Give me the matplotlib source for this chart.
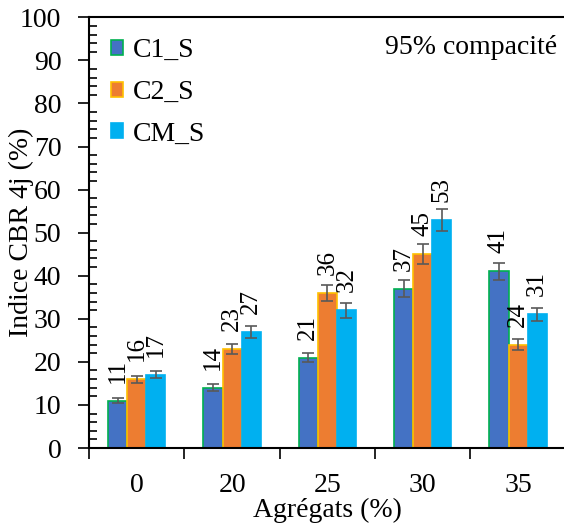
"""
@ CBR 4j - agrégats
@ barres groupées avec barres d'erreur
"""

import numpy as np
import matplotlib
matplotlib.use('Agg')
from matplotlib import pyplot as plt

plt.rcParams['font.family'] = ['Liberation Serif', 'DejaVu Serif']

categories = ['0', '20', '25', '30', '35']
series = ['C1_S', 'C2_S', 'CM_S']
c1_s = [11, 14, 21, 37, 41]
c2_s = [16, 23, 36, 45, 24]
cm_s = [17, 27, 32, 53, 31]
c1_err = [0.6, 0.8, 1.1, 2.0, 2.0]
c2_err = [0.8, 1.2, 1.9, 2.3, 1.3]
cm_err = [0.8, 1.4, 1.7, 2.5, 1.5]

faces = ['#4472C4', '#ED7D31', '#00B0F0']
edges = ['#00B050', '#FFC000', '#00B0F0']

fig = plt.figure(figsize=(5.64, 5.24), dpi=100)
ax = fig.add_axes([0.158, 0.145, 0.845, 0.822])

x = np.arange(len(categories))
width = 0.2
values = [c1_s, c2_s, cm_s]
errors = [c1_err, c2_err, cm_err]

for i in range(3):
    pos = x + (i - 1) * width
    ax.bar(pos, values[i], width, color=faces[i], edgecolor=edges[i],
           linewidth=1.2, label=series[i], zorder=2)
    ax.errorbar(pos, values[i], yerr=errors[i], fmt='none', ecolor='#595959',
                elinewidth=1.2, capsize=4, capthick=1.2, zorder=3)
    for p, v in zip(pos, values[i]):
        ax.annotate('%d' % v, (p, v), xytext=(0, 13), textcoords='offset points',
                    rotation=90, ha='center', va='bottom', fontsize=18)

ax.set_xlim(-0.5, 4.5)
ax.set_ylim(0, 100)
ax.set_yticks(np.arange(0, 101, 10))
ax.set_yticks(np.arange(0, 101, 2), minor=True)
ax.tick_params(axis='y', which='major', direction='out', length=8, width=1.2,
               labelsize=20, pad=12)
ax.tick_params(axis='y', which='minor', direction='in', length=6, width=1.2)

ax.set_xticks(np.arange(-0.5, 5, 1))
ax.set_xticklabels([])
ax.set_xticks(x, minor=True)
ax.set_xticklabels(categories, minor=True)
ax.tick_params(axis='x', which='major', direction='out', length=8, width=1.2)
ax.tick_params(axis='x', which='minor', length=0, labelsize=20, pad=18)

for s in ['left', 'bottom', 'top']:
    ax.spines[s].set_linewidth(1.5)
ax.spines['right'].set_visible(False)

ax.set_xlabel('Agrégats (%)', fontsize=20, labelpad=0)
ax.set_ylabel('Indice CBR 4j (%)', fontsize=20)
ax.yaxis.set_label_coords(-0.116, 0.5)

ax.legend(loc='upper left', bbox_to_anchor=(0.01, 0.99), frameon=False,
          fontsize=20, handlelength=0.45, handleheight=0.45, handletextpad=0.35,
          labelspacing=0.6, borderaxespad=0.2)

ax.text(0.983, 0.93, '95% compacité', transform=ax.transAxes, ha='right',
        va='center', fontsize=20)

plt.savefig('out.png', dpi=100)
